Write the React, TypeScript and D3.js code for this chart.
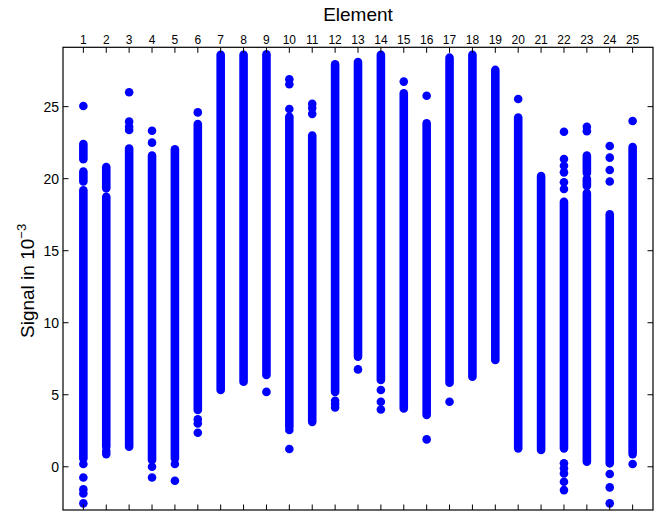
import React from "react";
import * as d3 from "d3";

// Element numbers (columns)
const elements: number[] = [
  1, 2, 3, 4, 5, 6, 7, 8, 9, 10, 11, 12, 13, 14, 15, 16, 17, 18, 19, 20, 21, 22, 23, 24, 25,
];

// Dense runs of overlapping dots per element: [low, high] (signal in 1e-3)
const denseRuns: [number, number][][] = [
  [[0.58, 19.2], [19.8, 20.5], [21.35, 22.4]],
  [[1.39, 18.75], [19.33, 20.8]],
  [[1.39, 22.1]],
  [[0.47, 21.6]],
  [[0.58, 22.04]],
  [[3.94, 23.8]],
  [[5.33, 28.6]],
  [[5.9, 28.6]],
  [[6.37, 28.64]],
  [[2.78, 24.3]],
  [[3.12, 23.0]],
  [[5.2, 27.94]],
  [[7.64, 28.1]],
  [[6.02, 28.6]],
  [[4.05, 25.93]],
  [[3.59, 23.85]],
  [[5.83, 28.4]],
  [[6.25, 28.6]],
  [[7.41, 27.55]],
  [[1.28, 24.24]],
  [[1.16, 20.19]],
  [[1.28, 18.4]],
  [[0.35, 19.0], [19.5, 20.0], [20.4, 21.6]],
  [[0.24, 17.53]],
  [[0.88, 22.2]],
];

// Isolated dots per element
const isolatedDots: number[][] = [
  [25.05, 0.19, -0.74, -1.57, -1.85, -2.54],
  [1.1, 0.88],
  [26.0, 23.96, 23.6, 23.38],
  [23.33, 22.5, 0.0, -0.74],
  [0.19, -0.97],
  [24.6, 3.29, 3.01, 2.36],
  [],
  [],
  [5.2],
  [26.9, 26.55, 24.84, 2.55, 1.23],
  [25.2, 24.9, 24.5],
  [4.58, 4.35, 4.12],
  [6.76],
  [5.33, 4.51, 3.98],
  [26.74],
  [25.76, 1.9],
  [4.51],
  [],
  [],
  [25.53],
  [],
  [23.26, 21.37, 20.9, 20.44, 19.75, 19.28, 0.24, -0.1, -0.46, -1.04, -1.62],
  [23.6, 23.3],
  [22.27, 21.46, 20.6, 19.8, -0.5, -1.43, -2.54],
  [24.0, 0.19],
];

const yTicks: number[] = [0, 5, 10, 15, 20, 25];

const W = 659;
const H = 513;
const M = { left: 63, right: 653, top: 47.3, bottom: 510 };
const BLUE = "#0000ff";
const FONT = "'Liberation Sans', Arial, Helvetica, sans-serif";
const R = 4.3;

export default function App() {
  const x = d3.scaleLinear().domain([0.11, 25.89]).range([M.left, M.right]);
  const y = d3.scaleLinear().domain([-3, 29.12]).range([M.bottom, M.top]);

  return (
    <svg
      width={W}
      height={H}
      style={{ position: "absolute", left: 0, top: 0, display: "block", background: "#fff" }}
    >
      <rect x={0} y={0} width={W} height={H} fill="#fff" />
      {/* data */}
      <g>
        {elements.map((e, i) => (
          <g key={e}>
            {denseRuns[i].map(([lo, hi], k) => (
              <line
                key={"r" + k}
                x1={x(e)}
                x2={x(e)}
                y1={y(lo)}
                y2={y(hi)}
                stroke={BLUE}
                strokeWidth={R * 2}
                strokeLinecap="round"
              />
            ))}
            {isolatedDots[i].map((v, k) => (
              <circle key={"p" + k} cx={x(e)} cy={y(v)} r={R} fill={BLUE} />
            ))}
          </g>
        ))}
      </g>
      {/* box */}
      <rect
        x={M.left}
        y={M.top}
        width={M.right - M.left}
        height={M.bottom - M.top}
        fill="none"
        stroke="#000"
        strokeWidth={1.2}
      />
      {/* x ticks top & bottom */}
      {elements.map((e) => (
        <g key={"xt" + e}>
          <line x1={x(e)} x2={x(e)} y1={M.top} y2={M.top + 5.5} stroke="#000" strokeWidth={1} />
          <line x1={x(e)} x2={x(e)} y1={M.bottom} y2={M.bottom - 5.5} stroke="#000" strokeWidth={1} />
          <text
            x={x(e)}
            y={44}
            textAnchor="middle"
            fontFamily={FONT}
            fontSize={12}
            fill="#000"
          >
            {e}
          </text>
        </g>
      ))}
      {/* y ticks left & right */}
      {yTicks.map((t) => (
        <g key={"yt" + t}>
          <line x1={M.left} x2={M.left + 5.5} y1={y(t)} y2={y(t)} stroke="#000" strokeWidth={1} />
          <line x1={M.right} x2={M.right - 5.5} y1={y(t)} y2={y(t)} stroke="#000" strokeWidth={1} />
          <text
            x={59}
            y={y(t)}
            dy="0.36em"
            textAnchor="end"
            fontFamily={FONT}
            fontSize={14}
            fill="#000"
          >
            {t}
          </text>
        </g>
      ))}
      {/* axis titles */}
      <text x={358} y={21} textAnchor="middle" fontFamily={FONT} fontSize={19} fill="#000">
        Element
      </text>
      <text
        transform={`translate(34,338) rotate(-90)`}
        textAnchor="start"
        fontFamily={FONT}
        fontSize={19}
        fill="#000"
      >
        Signal in 10
        <tspan dy={-8} fontSize={13}>
          −3
        </tspan>
      </text>
    </svg>
  );
}
